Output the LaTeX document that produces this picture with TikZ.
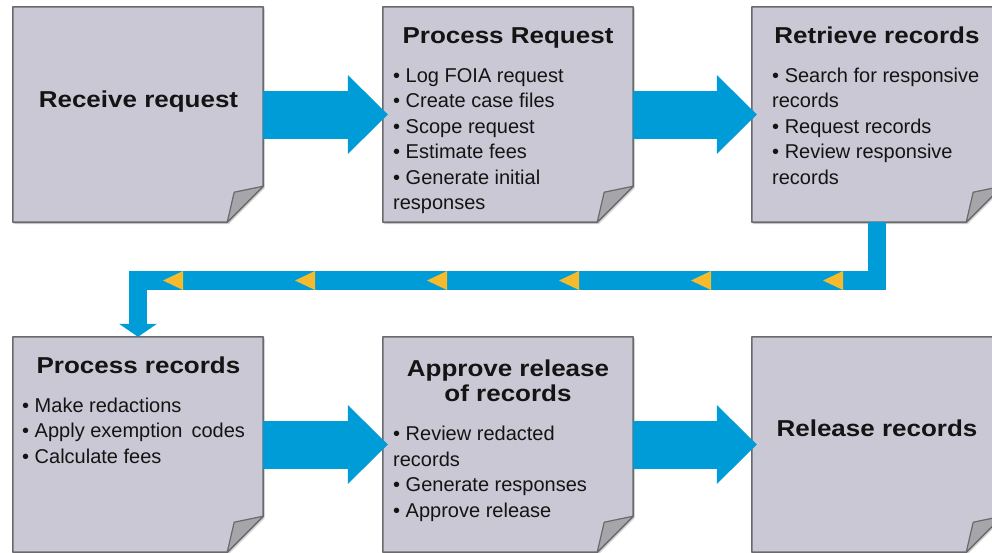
\documentclass[tikz,border=0pt]{standalone}
\usepackage{fontspec}
\setmainfont{Liberation Sans}
\newfontfamily\headfont[FakeStretch=1.13]{Liberation Sans}
\usetikzlibrary{arrows.meta,shadows}
\definecolor{paperfill}{RGB}{201,200,212}
\definecolor{paperline}{RGB}{105,105,110}
\definecolor{foldfill}{RGB}{165,165,170}
\definecolor{flowblue}{RGB}{0,156,216}
\definecolor{markyellow}{RGB}{246,187,45}
\definecolor{inkblack}{RGB}{20,20,20}
\tikzstyle{paper}=[rectangle,minimum width=250pt,minimum height=215pt,inner sep=0pt]
\tikzstyle{sheet}=[fill=paperfill,draw=paperline,line width=1.6pt,line join=round,drop shadow={shadow xshift=1.5pt,shadow yshift=-2pt,opacity=0.35}]
\tikzstyle{fold}=[fill=foldfill,draw=paperline,line width=1.2pt,line join=round]
\tikzstyle{flow}=[draw=flowblue,line width=48pt,-{Triangle[width=79pt,length=40pt,line width=0pt]},shorten >=-5pt]
\tikzstyle{backflow}=[draw=flowblue,line width=18.5pt,line join=miter,-{Triangle[width=38pt,length=13pt,line width=0pt]}]
\tikzstyle{marker}=[fill=markyellow]
\tikzstyle{head}=[font=\headfont\bfseries\fontsize{23}{25.7}\selectfont,align=center,inner sep=0pt,text=inkblack]
\tikzstyle{items}=[font=\fontsize{20}{25.5}\selectfont,align=left,inner sep=0pt,text=inkblack]

\begin{document}
\begin{tikzpicture}[x=1pt,y=-1pt]
\useasboundingbox (0,0) rectangle (992,552);
\node[paper] at (138, 114.5) (b1) {};
\node[paper] at (508, 114.5) (b2) {};
\node[paper] at (877, 114.5) (b3) {};
\node[paper] at (138, 444.5) (b4) {};
\node[paper] at (508, 444.5) (b5) {};
\node[paper] at (877, 444.5) (b6) {};
% sheets with folded corner
\foreach \b in {b1,b2,b3,b4,b5,b6} {
  \filldraw[sheet] (\b.north west) -- (\b.north east) -- ([yshift=36pt]\b.south east)
    -- ([xshift=-36pt]\b.south east) -- (\b.south west) -- cycle;
  \filldraw[fold] ([xshift=-36pt]\b.south east) -- ([xshift=-29pt,yshift=30pt]\b.south east)
    -- ([yshift=36pt]\b.south east) -- cycle;
}
\draw[flow] (b1) -- (b2);
\draw[flow] (b2) -- (b3);
\draw[flow] (b4) -- (b5);
\draw[flow] (b5) -- (b6);
\draw[backflow] (b3.south) -- ++(0, 58.5) -| (b4.north);
\foreach \x in {163, 295, 427, 559, 691, 823}
  \fill[marker] (\x, 280.5) -- ++(20, -9.5) -- ++(0, 19) -- cycle;
% titles and lists (base = last line)
\node[head, anchor=base] at (138.5, 107) (t1) {Receive request};
\node[head, anchor=base] at (508, 43.3) (t2) {Process Request};
\node[head, anchor=base] at (877, 43.3) (t3) {Retrieve records};
\node[head, anchor=base] at (138.5, 373) (t4) {Process records};
\node[head, anchor=base] at (508, 401.7) (t5) {Approve release\\of records};
\node[head, anchor=base] at (877, 436) (t6) {Release records};
\node[items, anchor=base west] at (393, 209.8) (l2) {\textbullet\ Log FOIA request\\\textbullet\ Create case files\\\textbullet\ Scope request\\\textbullet\ Estimate fees\\\textbullet\ Generate initial\\responses};
\node[items, anchor=base west] at (772, 184.3) (l3) {\textbullet\ Search for responsive\\records\\\textbullet\ Request records\\\textbullet\ Review responsive\\records};
\node[items, anchor=base west] at (22, 463) (l4) {\textbullet\ Make redactions\\\textbullet\ Apply exemption\hspace{9pt}codes\\\textbullet\ Calculate fees};
\node[items, anchor=base west] at (393, 517.2) (l5) {\textbullet\ Review redacted\\records\\\textbullet\ Generate responses\\\textbullet\ Approve release};
\end{tikzpicture}
\end{document}
